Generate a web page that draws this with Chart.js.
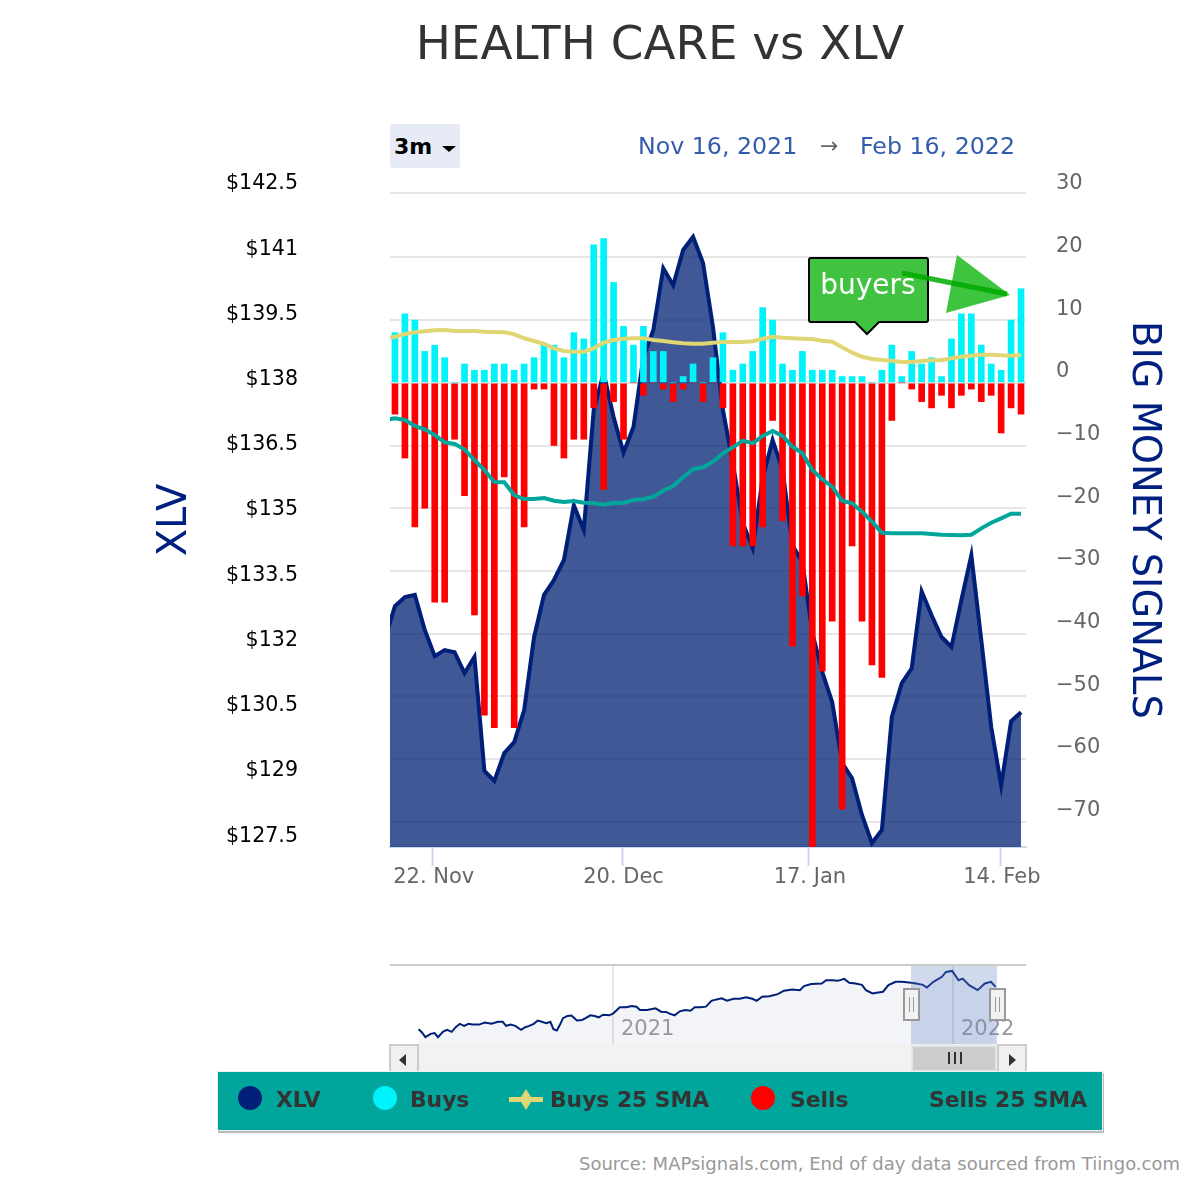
<!DOCTYPE html>
<html>
<head>
<meta charset="utf-8">
<script src="https://cdn.jsdelivr.net/npm/chart.js@4"></script>
<style>
html, body { margin: 0; padding: 0; background: #fff; }
body { position: relative; width: 1200px; height: 1180px; overflow: hidden; font-family: "DejaVu Sans", sans-serif; }
.abs { position: absolute; white-space: nowrap; }
#mainChart { position: absolute; left: 0; top: 0; }
#navChart { position: absolute; left: 390px; top: 965px; }
#title { left: 660px; top: 15px; transform: translateX(-50%); font-size: 46.8px; line-height: 56px; color: #333; }
#range3m { left: 390px; top: 124px; width: 70px; height: 44px; background: #e6ebf5; border-radius: 3px; font-weight: bold; font-size: 22px; line-height: 46px; color: #000; text-indent: 4px; }
#caret { left: 442px; top: 146px; width: 0; height: 0; border-left: 7px solid transparent; border-right: 7px solid transparent; border-top: 6px solid #000; }
.date { top: 131px; font-size: 23.7px; line-height: 30px; color: #335cad; }
#arrowTxt { left: 820px; top: 131px; font-size: 22px; line-height: 30px; color: #666; }
#navTop { left: 390px; top: 964px; width: 636px; height: 2px; background: #ccc; }
.navYear { top: 1015px; font-size: 21px; line-height: 26px; color: #999; }
#navMask { left: 911px; top: 966px; width: 86px; height: 78px; background: rgba(102,133,194,0.3); }
.handle { top: 988px; width: 13px; height: 29px; background: #f2f2f2; border: 2px solid #999; }
.handle i { position: absolute; top: 7px; width: 1px; height: 15px; background: #999; }
#track { left: 389px; top: 1044px; width: 637px; height: 28px; background: #f2f2f2; }
.sbtn { top: 1044px; width: 26px; height: 26px; background: #f0f0f0; border: 2px solid #ccc; }
#thumb { left: 911px; top: 1045px; width: 86px; height: 27px; background: #ccc; border: 2px solid #e6e6e6; box-sizing: border-box; }
.tri { width: 0; height: 0; border-top: 6px solid transparent; border-bottom: 6px solid transparent; top: 1054px; }
.bar3 { top: 1052px; width: 2px; height: 12px; background: #333; }
#legend { left: 218px; top: 1072px; width: 884px; height: 58px; background: #00a69b; box-shadow: 0 0 0 1px #eee, 1px 2px 0 1px #bbb; }
.lg { top: 1086px; font-weight: bold; font-size: 21.8px; line-height: 28px; color: #333; }
.dot { top: 1086px; width: 24px; height: 24px; border-radius: 50%; }
#source { right: 20px; top: 1152px; font-size: 18px; line-height: 24px; color: #999; }
#overlay { position: absolute; left: 0; top: 0; }
</style>
</head>
<body>
<canvas id="mainChart" width="1200" height="910"></canvas>
<canvas id="navChart" width="636" height="79"></canvas>

<div class="abs" id="title">HEALTH CARE vs XLV</div>
<div class="abs" id="range3m">3m</div>
<div class="abs" id="caret"></div>
<div class="abs date" style="left:638px">Nov 16, 2021</div>
<div class="abs" id="arrowTxt">→</div>
<div class="abs date" style="left:860px">Feb 16, 2022</div>

<svg id="overlay" width="1200" height="400">
  <path d="M811 258 H926 Q928 258 928 260 V320 Q928 322 926 322 H879 L867 334 L855 322 H811 Q809 322 809 320 V260 Q809 258 811 258 Z" fill="#41c241" stroke="#000" stroke-width="2"/>
  <text x="868" y="294" text-anchor="middle" font-family="DejaVu Sans" font-size="28" fill="#fff">buyers</text>
  <polygon points="957,255 946,313 1010,295" fill="#2fbf2f" fill-opacity="0.92"/>
  <line x1="902" y1="273" x2="1007" y2="294" stroke="#00aa00" stroke-opacity="0.85" stroke-width="5"/>
</svg>

<div class="abs" id="navTop"></div>
<div class="abs navYear" style="left:621px">2021</div>
<div class="abs navYear" style="left:961px">2022</div>
<div class="abs" id="navMask"></div>
<div class="abs" id="track"></div>
<div class="abs sbtn" style="left:389px"></div>
<div class="abs tri" style="left:399px;border-right:7px solid #333"></div>
<div class="abs sbtn" style="left:997px"></div>
<div class="abs tri" style="left:1009px;border-left:7px solid #333"></div>
<div class="abs" id="thumb"></div>
<div class="abs bar3" style="left:948px"></div>
<div class="abs bar3" style="left:954px"></div>
<div class="abs bar3" style="left:960px"></div>
<div class="abs handle" style="left:903px"><i style="left:4px"></i><i style="left:8px"></i></div>
<div class="abs handle" style="left:989px"><i style="left:4px"></i><i style="left:8px"></i></div>

<div class="abs" id="legend"></div>
<div class="abs dot" style="left:238px;background:#001f78"></div>
<div class="abs lg" style="left:276px">XLV</div>
<div class="abs dot" style="left:373px;background:#00f2fa"></div>
<div class="abs lg" style="left:410px">Buys</div>
<svg class="abs" style="left:508px;top:1088px" width="36" height="24"><path d="M18 1 L23 9 H35 V14 H23 L18 22 L13 14 H1 V9 H13 Z" fill="#e0d673"/></svg>
<div class="abs lg" style="left:550px">Buys 25 SMA</div>
<div class="abs dot" style="left:751px;background:#ff0000"></div>
<div class="abs lg" style="left:790px">Sells</div>
<div class="abs lg" style="left:929px">Sells 25 SMA</div>

<div class="abs" id="source">Source: MAPsignals.com, End of day data sourced from Tiingo.com</div>

<script>
// first entry is the day before the visible window, it only gives the lines their lead-in
var dates = ["2021-11-15",
    "2021-11-16", "2021-11-17", "2021-11-18", "2021-11-19", "2021-11-22", "2021-11-23", "2021-11-24", "2021-11-26", "2021-11-29", "2021-11-30",
    "2021-12-01", "2021-12-02", "2021-12-03", "2021-12-06", "2021-12-07", "2021-12-08", "2021-12-09", "2021-12-10", "2021-12-13", "2021-12-14",
    "2021-12-15", "2021-12-16", "2021-12-17", "2021-12-20", "2021-12-21", "2021-12-22", "2021-12-23", "2021-12-27", "2021-12-28", "2021-12-29",
    "2021-12-30", "2021-12-31", "2022-01-03", "2022-01-04", "2022-01-05", "2022-01-06", "2022-01-07", "2022-01-10", "2022-01-11", "2022-01-12",
    "2022-01-13", "2022-01-14", "2022-01-18", "2022-01-19", "2022-01-20", "2022-01-21", "2022-01-24", "2022-01-25", "2022-01-26", "2022-01-27",
    "2022-01-28", "2022-01-31", "2022-02-01", "2022-02-02", "2022-02-03", "2022-02-04", "2022-02-07", "2022-02-08", "2022-02-09", "2022-02-10",
    "2022-02-11", "2022-02-14", "2022-02-15", "2022-02-16"];

var xlv = [132.26,
    133.0, 133.21, 133.26, 132.45, 131.85, 131.99, 131.94, 131.46, 131.83, 129.21,
    128.98, 129.62, 129.87, 130.61, 132.29, 133.26, 133.6, 134.06, 135.32, 134.75,
    137.51, 138.36, 137.35, 136.53, 137.12, 138.73, 139.35, 140.77, 140.38, 141.19,
    141.49, 140.89, 139.42, 137.51, 136.29, 134.91, 134.33, 135.94, 136.82, 136.13,
    134.4, 134.01, 132.38, 131.48, 130.79, 129.39, 129.04, 128.19, 127.55, 127.85,
    130.45, 131.23, 131.57, 133.34, 132.79, 132.29, 132.06, 133.14, 134.17, 132.22,
    130.22, 128.88, 130.35, 130.56];

var buys = [null,
    8, 11, 10, 5, 6, 4, 0, 3, 2, 2,
    3, 3, 2, 3, 4, 6, 6, 4, 8, 7,
    22, 23, 16, 9, 6, 9, 5, 5, 0, 1,
    3, 0, 4, 8, 2, 3, 5, 12, 10, 3,
    2, 5, 2, 2, 2, 1, 1, 1, 0, 2,
    6, 1, 5, 3, 4, 1, 7, 11, 11, 6,
    3, 2, 10, 15];

var sells = [null,
    -5, -12, -23, -20, -35, -35, -9, -18, -37, -53,
    -55, -15, -55, -23, -1, -1, -10, -12, -9, -9,
    -4, -17, -3, -9, 0, -2, 0, -1, -3, -1,
    0, -3, 0, -4, -26, -26, -26, -23, -6, -22,
    -42, -34, -75, -46, -38, -68, -26, -38, -45, -47,
    -6, 0, -1, -3, -4, -2, -4, -2, -1, -3,
    -2, -8, -4, -5];

var buysSma = [7.10,
    7.35, 7.78, 8.05, 8.21, 8.37, 8.42, 8.26, 8.26, 8.26, 8.15,
    8.10, 8.05, 7.74, 7.10, 6.67, 6.19, 5.50, 5.07, 4.96, 4.96,
    5.50, 6.40, 6.83, 7.03, 7.10, 7.10, 6.83, 6.67, 6.46, 6.30,
    6.24, 6.24, 6.40, 6.51, 6.51, 6.51, 6.62, 7.03, 7.35, 7.19,
    7.10, 7.03, 6.99, 6.71, 6.56, 5.66, 4.80, 4.16, 3.80, 3.64,
    3.52, 3.32, 3.32, 3.48, 3.59, 3.59, 3.91, 4.16, 4.32, 4.48,
    4.48, 4.39, 4.32, 4.43];

var sellsSma = [-5.93,
    -5.66, -5.93, -6.89, -7.42, -8.33, -9.49, -9.76, -10.61, -12.31, -13.91,
    -15.82, -15.87, -17.89, -18.53, -18.53, -18.37, -18.8, -19.01, -18.85, -19.12,
    -19.17, -19.44, -19.12, -19.17, -18.69, -18.58, -18.17, -17.21, -16.46, -15.07,
    -13.75, -13.48, -12.58, -11.24, -10.29, -9.23, -9.65, -8.48, -7.69, -8.48,
    -10.19, -11.24, -13.91, -15.39, -16.57, -18.8, -19.22, -20.56, -22.15, -23.91,
    -24.0, -24.0, -24.0, -24.0, -24.11, -24.23, -24.27, -24.32, -24.23, -23.21,
    -22.31, -21.61, -20.88, -20.88];

// 17 Jan is a market holiday so its tick falls between two slots
var xTickSlots = [4.8, 23.9, 42.65, 61.97];
var xTickLabels = ["22. Nov", "20. Dec", "17. Jan", "14. Feb"];
var leftTicks = [142.5, 141, 139.5, 138, 136.5, 135, 133.5, 132, 130.5, 129, 127.5];
var rightTicks = [30, 20, 10, 0, -10, -20, -30, -40, -50, -60, -70];

// navigator, two years of XLV
var navYears = [2020.430, 2020.440, 2020.450, 2020.465, 2020.477, 2020.487, 2020.502, 2020.514, 2020.527, 2020.539,
    2020.551, 2020.564, 2020.576, 2020.588, 2020.607, 2020.625, 2020.644, 2020.663, 2020.677, 2020.687,
    2020.700, 2020.714, 2020.731, 2020.743, 2020.755, 2020.768, 2020.780, 2020.792, 2020.805, 2020.817,
    2020.826, 2020.836, 2020.845, 2020.854, 2020.867, 2020.879, 2020.895, 2020.910, 2020.922, 2020.934,
    2020.947, 2020.959, 2020.972, 2020.990, 2021.002, 2021.021, 2021.040, 2021.056, 2021.070, 2021.080,
    2021.101, 2021.126, 2021.142, 2021.157, 2021.169, 2021.182, 2021.197, 2021.213, 2021.229, 2021.241,
    2021.256, 2021.274, 2021.290, 2021.305, 2021.320, 2021.336, 2021.355, 2021.373, 2021.392, 2021.410,
    2021.423, 2021.439, 2021.460, 2021.485, 2021.503, 2021.528, 2021.550, 2021.562, 2021.583, 2021.614,
    2021.627, 2021.645, 2021.661, 2021.680, 2021.695, 2021.713, 2021.732, 2021.744, 2021.763, 2021.775,
    2021.794, 2021.810, 2021.831, 2021.849, 2021.871, 2021.892, 2021.911, 2021.923, 2021.942, 2021.967,
    2021.979, 2021.997, 2022.016, 2022.028, 2022.047, 2022.072, 2022.093, 2022.111, 2022.125];
var navValues = [95.0, 92.4, 88.7, 91.3, 91.9, 88.7, 93.2, 94.5, 92.9, 96.6,
    99.3, 97.7, 99.3, 98.7, 98.7, 100.3, 99.3, 100.9, 100.9, 97.7,
    98.7, 97.7, 94.5, 96.6, 97.7, 99.3, 101.9, 100.9, 99.8, 100.9,
    95.0, 94.0, 98.5, 103.8, 105.6, 105.9, 101.9, 102.4, 104.0, 106.1,
    105.6, 104.5, 106.6, 106.1, 107.7, 112.5, 112.5, 113.5, 113.0, 110.4,
    110.4, 111.7, 109.0, 108.8, 107.2, 106.1, 109.3, 110.4, 109.8, 112.5,
    112.5, 113.0, 117.7, 118.8, 119.6, 117.7, 119.3, 119.3, 120.4, 119.3,
    117.7, 120.9, 121.4, 123.0, 125.7, 126.7, 126.2, 129.4, 131.0, 131.5,
    134.1, 134.1, 133.6, 135.2, 132.0, 131.5, 130.4, 126.2, 123.5, 124.1,
    124.9, 130.2, 132.8, 132.8, 132.3, 131.5, 130.4, 128.3, 132.8, 136.8,
    140.7, 141.5, 134.1, 135.4, 130.2, 126.2, 131.5, 132.8, 128.8];
var navTicks = [2021, 2022];

var COLOR_NAVY = "#001f78";
var COLOR_BUYS = "#00f2fa";
var COLOR_SELLS = "#ff0000";
var COLOR_BUYS_SMA = "#e0d673";
var COLOR_SELLS_SMA = "#00a69b";
var COLOR_GRID = "#e6e6e6";
var FONT = "'DejaVu Sans'";

function series(values) {
    return dates.map(function (d, i) {
        return { x: i, y: values[i] };
    });
}

function lineSet(label, values, color, order) {
    return {
        type: "line",
        label: label,
        data: series(values),
        yAxisID: "y1",
        borderColor: color,
        borderWidth: 4,
        pointRadius: 0,
        tension: 0,
        clip: 0,
        order: order,
    };
}

// tick padding would otherwise push the plot area in
function fixPadding(scale) {
    scale.paddingTop = 0;
    scale.paddingBottom = 0;
    scale.paddingLeft = 0;
    scale.paddingRight = 0;
}

const data = {
    datasets: [
        Object.assign(lineSet("XLV", xlv, COLOR_NAVY, 5), {
            yAxisID: "y",
            fill: "start",
            backgroundColor: "rgba(0, 32, 115, 0.75)",
        }),
        { type: "bar", label: "Buys", data: series(buys), yAxisID: "y1", backgroundColor: COLOR_BUYS, barThickness: 6, grouped: false, order: 3 },
        { type: "bar", label: "Sells", data: series(sells), yAxisID: "y1", backgroundColor: COLOR_SELLS, barThickness: 6, grouped: false, order: 3 },
        lineSet("Buys 25 SMA", buysSma, COLOR_BUYS_SMA, 1),
        lineSet("Sells 25 SMA", sellsSma, COLOR_SELLS_SMA, 1),
    ],
};

new Chart(document.getElementById("mainChart"), {
    data: data,
    options: {
        animation: false,
        responsive: false,
        devicePixelRatio: 1,
        layout: { padding: { left: 152, right: 34, top: 193, bottom: 13 } },
        plugins: { legend: { display: false }, title: { display: false }, tooltip: { enabled: false } },
        scales: {
            x: {
                type: "linear",
                min: 0.5,
                max: 64.5,
                offset: false,
                afterBuildTicks: function (scale) {
                    scale.ticks = xTickSlots.map(function (v) { return { value: v }; });
                },
                afterFit: function (scale) {
                    scale.height = 50;
                    fixPadding(scale);
                },
                grid: { offset: false, drawOnChartArea: false, tickLength: 19, tickColor: "#ccd6eb", tickWidth: 2 },
                border: { color: "#ccd6eb", width: 2 },
                ticks: {
                    autoSkip: false,
                    maxRotation: 0,
                    padding: -1,
                    labelOffset: 1,
                    color: "#666",
                    font: { family: FONT, size: 21 },
                    callback: function (value, index) { return xTickLabels[index]; },
                },
            },
            y: {
                position: "left",
                min: 127.46,
                max: 142.5,
                afterBuildTicks: function (scale) {
                    scale.ticks = leftTicks.map(function (v) { return { value: v }; });
                },
                afterFit: function (scale) {
                    scale.width = 238;
                    fixPadding(scale);
                },
                title: { display: true, text: "XLV", color: "#002080", font: { family: FONT, size: 40 }, padding: 0 },
                border: { display: false },
                grid: {
                    drawTicks: false,
                    lineWidth: 2,
                    color: function (ctx) { return ctx.tick && ctx.tick.value === 142.5 ? COLOR_GRID : "transparent"; },
                },
                ticks: {
                    autoSkip: false,
                    padding: 92,
                    labelOffset: -9,
                    color: "#000",
                    font: { family: FONT, size: 20.6 },
                    callback: function (value) { return "$" + value; },
                },
            },
            y1: {
                position: "right",
                min: -74.03,
                max: 30.27,
                afterBuildTicks: function (scale) {
                    scale.ticks = rightTicks.map(function (v) { return { value: v }; });
                },
                afterFit: function (scale) {
                    scale.width = 140;
                    fixPadding(scale);
                },
                title: { display: true, text: "BIG MONEY SIGNALS", color: "#002080", font: { family: FONT, size: 38.4 }, padding: 0 },
                border: { display: false },
                grid: {
                    drawTicks: false,
                    lineWidth: 2,
                    color: function (ctx) { return ctx.tick && ctx.tick.value === 30 ? "transparent" : COLOR_GRID; },
                },
                ticks: {
                    autoSkip: false,
                    padding: 30,
                    labelOffset: -11,
                    color: "#666",
                    font: { family: FONT, size: 21 },
                    callback: function (value) { return value < 0 ? "\u2212" + Math.abs(value) : "" + value; },
                },
            },
        },
    },
});

new Chart(document.getElementById("navChart"), {
    type: "line",
    data: {
        datasets: [{
            data: navYears.map(function (y, i) { return { x: y, y: navValues[i] }; }),
            borderColor: COLOR_NAVY,
            borderWidth: 2,
            pointRadius: 0,
            tension: 0,
            fill: "start",
            backgroundColor: "rgba(0, 32, 115, 0.05)",
        }],
    },
    options: {
        animation: false,
        responsive: false,
        devicePixelRatio: 1,
        plugins: { legend: { display: false }, tooltip: { enabled: false } },
        scales: {
            x: {
                type: "linear",
                min: 2020.346,
                max: 2022.214,
                afterBuildTicks: function (scale) {
                    scale.ticks = navTicks.map(function (v) { return { value: v }; });
                },
                grid: { color: COLOR_GRID, lineWidth: 2, drawTicks: false },
                border: { display: false },
                ticks: { display: false },
            },
            y: { display: false, min: 83.2, max: 146.25 },
        },
    },
});
</script>
</body>
</html>
